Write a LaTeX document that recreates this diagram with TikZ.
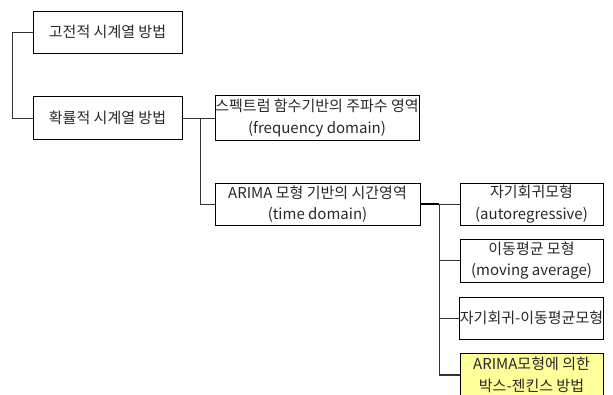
\documentclass[tikz,border=0pt]{standalone}
\usepackage{fontspec}
\setmainfont{Noto Sans CJK KR}
\definecolor{boxyellow}{RGB}{255,255,153}
\definecolor{txt}{RGB}{40,40,40}
\tikzset{
  box/.style={draw=black, line width=0.9pt, minimum height=42pt, inner sep=0pt, align=center, text=txt,
    font=\fontsize{15pt}{21.5pt}\selectfont},
  conn/.style={draw=black!80, line width=0.9pt},
  thickconn/.style={draw=black, line width=1.8pt}
}
\begin{document}
\begin{tikzpicture}[x=1pt,y=-1pt]
\useasboundingbox (0,0) rectangle (613,394);
\begin{scope}
\clip (0,0) rectangle (613,394);
\node[box, minimum width=149pt] (b1) at (107.5,32) {고전적 시계열 방법};
\node[box, minimum width=149pt, minimum height=43pt] (b2) at (107.5,118) {확률적 시계열 방법};
\node[box, minimum width=204pt, minimum height=45pt] (b3) at (317,118) {스펙트럼 함수기반의 주파수 영역\\(frequency domain)};
\node[box, minimum width=205pt] (b4) at (317.5,204) {ARIMA 모형 기반의 시간영역\\(time domain)};
\node[box, minimum width=143pt] (b5) at (531.5,204) {자기회귀모형\\(autoregressive)};
\node[box, minimum width=143pt, minimum height=43pt] (b6) at (531.5,260.5) {이동평균 모형\\(moving average)};
\node[box, minimum width=143pt] (b7) at (531.5,318) {자기회귀-이동평균모형};
\node[box, minimum width=143pt, minimum height=44pt, fill=boxyellow] (b8) at (531.5,375) {ARIMA모형에 의한\\박스-젠킨스 방법};
\end{scope}
\draw[conn] (b1.west) -- ++(-20,0) |- (b2.west);
\draw[conn] (b2.east) -- (b3.west);
\draw[conn] (b2.east) ++(18,0) coordinate (j1) |- (b4.west);
\draw[thickconn] (b4.east) -- ++(19,0) coordinate (j2);
\draw[conn] (j2) -- (b5.west);
\draw[conn, line width=1.4pt] (j2) |- (b8.west);
\draw[conn] (j2) |- (b6.west);
\draw[conn] (j2) |- (b7.west);
\end{tikzpicture}
\end{document}
